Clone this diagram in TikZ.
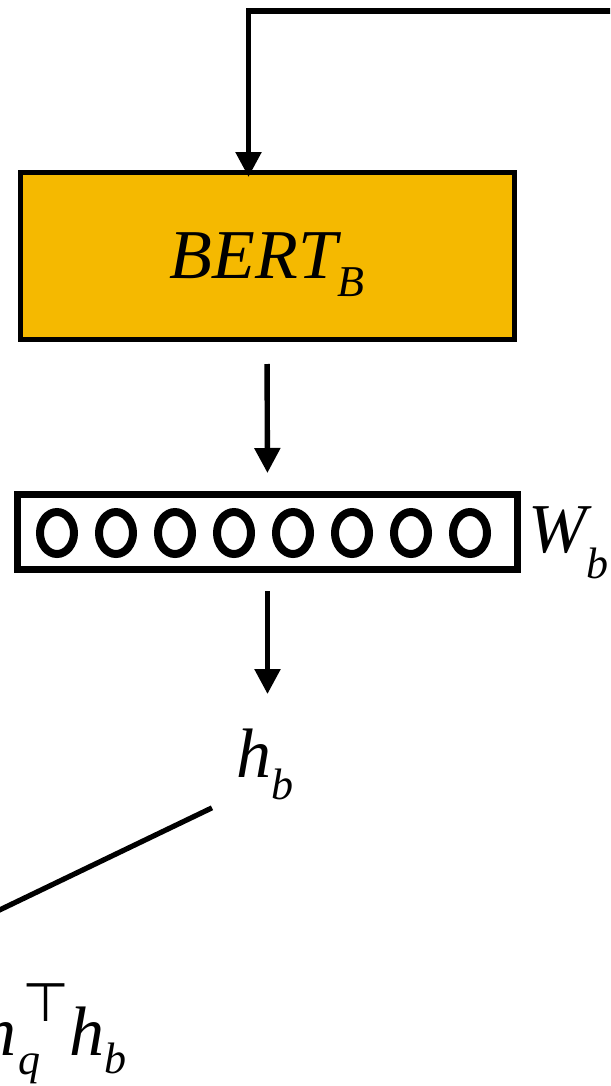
\documentclass[tikz,border=0pt]{standalone}
\usepackage{fontspec}
\setmainfont{Liberation Serif}
\newfontfamily\symbolfont{DejaVu Sans}
\usetikzlibrary{arrows.meta,positioning}
\definecolor{bertgold}{RGB}{245,185,0}
\newcommand{\lsub}[2][9pt]{\raisebox{-#1}{\fontsize{22}{22}\selectfont #2}}
\newcommand{\tsup}{\raisebox{17pt}{\symbolfont\fontsize{27}{27}\selectfont ⊤}}

\begin{document}
\begin{tikzpicture}[x=0.5pt,y=-0.5pt,
  every node/.style={font=\fontsize{35}{42}\selectfont\itshape, inner sep=0pt},
  encoder/.style={draw, line width=2.5pt, fill=bertgold, minimum width=247pt, minimum height=83.5pt, text depth=0pt},
  layer/.style={draw, line width=3.5pt, minimum width=250pt, minimum height=37.5pt},
  unit/.style={line width=4pt},
  flow/.style={line width=2.7pt, -{Triangle[length=12.5pt,width=12.5pt]}},
  link/.style={line width=2.6pt}]
  \useasboundingbox (0,0) rectangle (610,1086);
  \clip (0,0) rectangle (610,1086);
  % encoder and projection layer
  \node[encoder] (bert) at (267,256) {BERT\lsub{B}};
  \node[layer] (wb) at (267.5,532) {};
  \foreach \i in {0,...,7}
    \draw[unit] (57+59*\i,533) ellipse [x radius=8.5pt, y radius=10.5pt];
  \node[anchor=base west] (wlabel) at (528,552) {W\lsub[13pt]{b}};
  % outputs
  \node[anchor=base west] (hb) at (236,777) {h\lsub[11pt]{b}};
  \node[anchor=base west] (score) at (-19,1055) {h\kern1pt\rlap{\lsub[9.5pt]{q}}\kern2pt\tsup\kern0pt h\lsub{b}};
  % connectors
  \coordinate (feed) at (640,11);
  \coordinate (bertin) at (248.5,177);
  \coordinate (merge) at (-40,929);
  \draw[flow] (feed) -| (bertin);
  \draw[flow, shorten <=11pt, shorten >=9pt] (bert.south) -- (wb.north);
  \draw[flow, shorten <=9pt, shorten >=17pt] (wb.south) -- (wb.south |- hb.north);
  \draw[link] ([xshift=-12pt,yshift=-4pt]hb.south west) -- (merge);
\end{tikzpicture}
\end{document}
